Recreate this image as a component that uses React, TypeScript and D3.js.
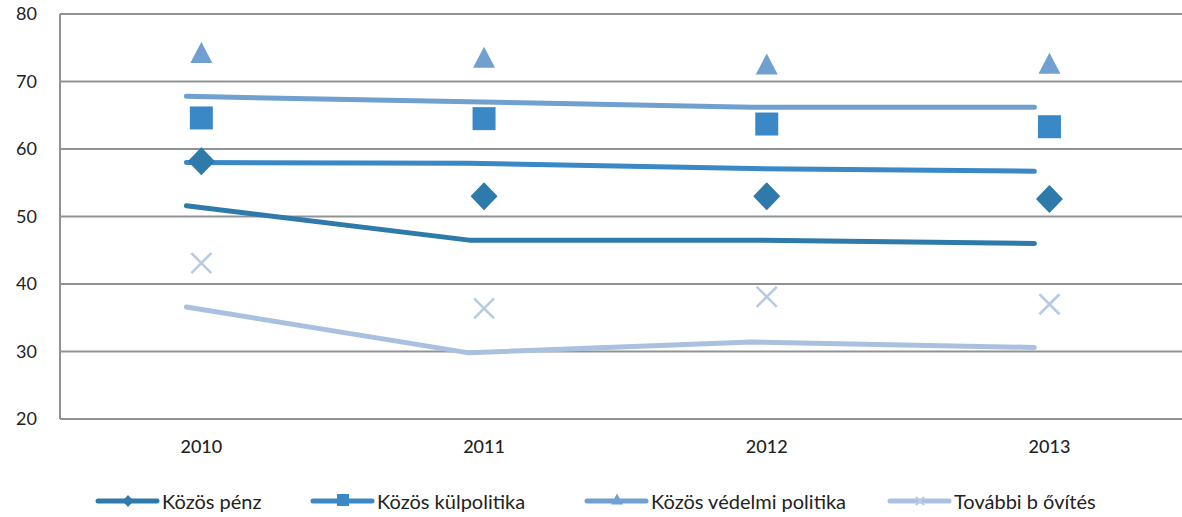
import React from "react";
import * as d3 from "d3";

const years = ["2010", "2011", "2012", "2013"];
const seriesNames = ["Közös pénz", "Közös külpolitika", "Közös védelmi politika", "További b ővítés"];
const colors = ["#2e7aaa", "#3a88c6", "#6fa0d0", "#a9c1de"];
const markerColors = ["#2e7aaa", "#3a88c6", "#6fa0d0", "#b6cae4"];

// line values (one group)
const lineLow = [51.6, 46.5, 46.5, 46.0];
const lineMid = [58.0, 57.9, 57.1, 56.7];
const lineHigh = [67.8, 67.0, 66.2, 66.2];
const lineLowest = [36.6, 29.8, 31.4, 30.6];

// marker values (another group)
const diamondVals = [58.2, 53.0, 53.0, 52.6];
const squareVals = [64.6, 64.5, 63.7, 63.3];
const triangleVals = [74.3, 73.6, 72.6, 72.7];
const crossVals = [43.1, 36.4, 38.1, 37.0];

const yTicks = [20, 30, 40, 50, 60, 70, 80];

const W = 1182, H = 517;
const left = 60, top = 14, bottom = 419;

const rhombus = (w: number, h: number) => `M0,${-h / 2}L${w / 2},0L0,${h / 2}L${-w / 2},0Z`;
const tri = (w: number, h: number) => `M0,${-h / 2}L${w / 2},${h / 2}L${-w / 2},${h / 2}Z`;
const sq = (s: number) => `M${-s / 2},${-s / 2}h${s}v${s}h${-s}Z`;
const crossPath = (s: number) => `M${-s},${-s}L${s},${s}M${-s},${s}L${s},${-s}`;

export default function App() {
  const x = d3.scaleBand<string>().domain(years).range([left, left + 4 * 282.7]);
  const xc = (d: string) => (x(d) as number) + x.bandwidth() / 2;
  const xl = (d: string) => xc(d) - 15;
  const y = d3.scaleLinear().domain([20, 80]).range([bottom, top]);

  const lines = [
    { vals: lineLow, color: colors[0] },
    { vals: lineMid, color: colors[1] },
    { vals: lineHigh, color: colors[2] },
    { vals: lineLowest, color: colors[3] },
  ];
  const lineGen = d3.line<number>().x((_, i) => xl(years[i])).y((v) => y(v));

  const legendItems = [
    { x: 98, name: seriesNames[0], kind: "diamond" },
    { x: 313, name: seriesNames[1], kind: "square" },
    { x: 587, name: seriesNames[2], kind: "triangle" },
    { x: 890, name: seriesNames[3], kind: "cross" },
  ];

  const font = "Lato, 'Open Sans', sans-serif";

  return (
    <svg width={W} height={H} style={{ position: "absolute", left: 0, top: 0, background: "#fff" }}>
      {yTicks.map((t) => (
        <g key={t}>
          <line x1={left} x2={W} y1={y(t)} y2={y(t)} stroke="#8f9398" strokeWidth={2} />
          <text x={37} y={y(t)} dy="0.35em" textAnchor="end" fontFamily={font} fontSize={18} fill="#222">
            {t}
          </text>
        </g>
      ))}
      <line x1={left} x2={left} y1={top} y2={bottom} stroke="#8f9398" strokeWidth={2} />
      {years.map((yr) => (
        <text key={yr} x={xc(yr)} y={447} dy="0.35em" textAnchor="middle" fontFamily={font} fontSize={18} fontWeight={500} fill="#222">
          {yr}
        </text>
      ))}
      {lines.map((l, i) => (
        <path key={i} d={lineGen(l.vals) || ""} fill="none" stroke={l.color} strokeWidth={5} strokeLinecap="round" strokeLinejoin="round" />
      ))}
      {triangleVals.map((v, i) => (
        <path key={"t" + i} d={tri(22, 21)} transform={`translate(${xc(years[i])},${y(v)})`} fill={markerColors[2]} />
      ))}
      {squareVals.map((v, i) => (
        <path key={"s" + i} d={sq(23)} transform={`translate(${xc(years[i])},${y(v)})`} fill={markerColors[1]} />
      ))}
      {diamondVals.map((v, i) => (
        <path key={"d" + i} d={rhombus(25, 26)} transform={`translate(${xc(years[i])},${y(v)})`} fill={markerColors[0]} stroke={markerColors[0]} strokeWidth={1.5} strokeLinejoin="round" />
      ))}
      {crossVals.map((v, i) => (
        <path key={"c" + i} d={crossPath(10)} transform={`translate(${xc(years[i])},${y(v)})`} stroke={markerColors[3]} strokeWidth={2.5} fill="none" />
      ))}
      {legendItems.map((it, i) => {
        const mx = it.x + 30;
        const ly = 501;
        return (
          <g key={i}>
            <line x1={it.x} x2={it.x + 59} y1={ly} y2={ly} stroke={colors[i]} strokeWidth={5} strokeLinecap="round" />
            {it.kind === "diamond" && <path d={rhombus(11, 12)} transform={`translate(${mx},${ly})`} fill={colors[0]} />}
            {it.kind === "square" && <path d={sq(12)} transform={`translate(${mx},${ly - 1})`} fill={colors[1]} />}
            {it.kind === "triangle" && <path d={tri(12, 11)} transform={`translate(${mx},${ly - 2})`} fill={colors[2]} />}
            {it.kind === "cross" && <path d={crossPath(4)} transform={`translate(${mx},${ly})`} stroke={markerColors[3]} strokeWidth={2} fill="none" />}
            <text x={it.x + 64} y={ly + 1} dy="0.35em" fontFamily={font} fontSize={20} fill="#222">
              {it.name}
            </text>
          </g>
        );
      })}
    </svg>
  );
}
